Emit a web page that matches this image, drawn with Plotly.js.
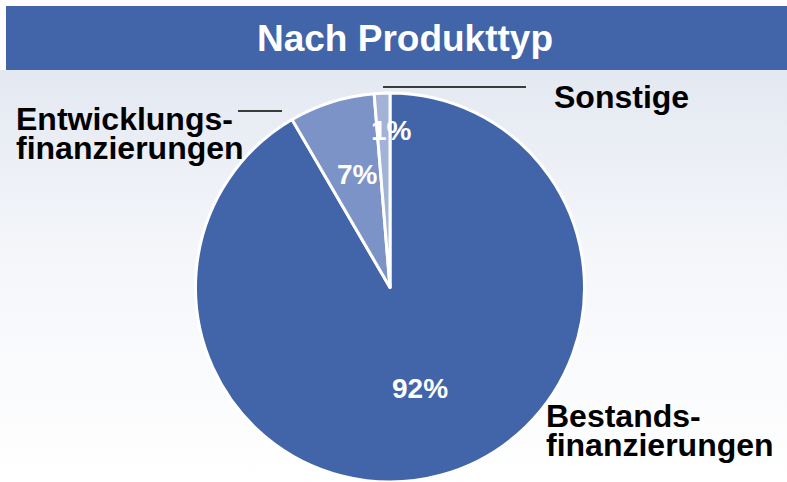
<!DOCTYPE html>
<html>
<head>
<meta charset="utf-8">
<script src="https://cdn.plot.ly/plotly-3.0.1.min.js"></script>
<style>
    html, body { margin: 0; padding: 0; }
    body {
        width: 787px;
        height: 482px;
        background: linear-gradient(to bottom, #ffffff 0px, #ffffff 70px, #e4e8f1 70px, #f4f6fa 250px, #ffffff 482px);
    }
    #chart { width: 787px; height: 482px; }
</style>
</head>
<body>
<div id="chart"></div>
<script>
// Werte
const categories = ['Bestands-finanzierungen', 'Entwicklungs-finanzierungen', 'Sonstige'];
const shares = [91.6, 7.1, 1.3];
const sliceColors = ['#4264a8', '#7b93c6', '#a3b3d8'];
const chartTitle = 'Nach Produkttyp';

const W = 787, H = 482;
const FONT = 'Arial, "Liberation Sans", sans-serif';

// Kreis: Mitte und Radius in Pixeln (Domain wird daraus abgeleitet)
const cx = 390, cy = 290, r = 194;
const rDomain = r + 3; // plotly zieht etwas Rand ab
const pieDomain = {
    x: [(cx - rDomain) / W, (cx + rDomain) / W],
    y: [1 - (cy + rDomain) / H, 1 - (cy - rDomain) / H]
};

// Abstand der Prozentwerte vom Mittelpunkt (Anteil am Radius) und kleine Winkelkorrektur
const pctRadius = [0.53, 0.62, 0.82];
const pctAngleShift = [-2, 2, 3];

// Kategorie-Beschriftungen: linke Kante, Grundlinie der ersten Zeile
const labelPos = [
    { x: 544, y: 427 },
    { x: 14, y: 130 },
    { x: 552, y: 108 }
];
const LABEL_SIZE = 32;
const LINE_GAP = 29;

const total = shares.reduce((a, b) => a + b, 0);
const annotations = [];
let cum = 0;
shares.forEach((v, i) => {
    const mid = (cum + v / 2) / total * 360 + pctAngleShift[i];
    cum += v;
    const th = mid * Math.PI / 180;
    const px = cx + Math.sin(th) * pctRadius[i] * r;
    const py = cy - Math.cos(th) * pctRadius[i] * r;
    annotations.push({
        x: px / W, y: 1 - py / H, xref: 'paper', yref: 'paper',
        text: Math.round(v / total * 100) + '%',
        showarrow: false, xanchor: 'center', yanchor: 'middle',
        font: { family: FONT, size: 28, color: '#ffffff', weight: 700 }
    });
});

categories.forEach((name, i) => {
    const parts = name.split('-');
    const lines = parts.length > 1 ? [parts[0] + '-', parts[1]] : [name];
    lines.forEach((line, j) => {
        const base = labelPos[i].y + j * LINE_GAP;
        annotations.push({
            x: labelPos[i].x / W, y: 1 - (base - 11) / H,
            xref: 'paper', yref: 'paper',
            text: line, showarrow: false,
            xanchor: 'left', yanchor: 'middle',
            font: { family: FONT, size: LABEL_SIZE, color: '#000000', weight: 700 }
        });
    });
});

const trace = {
    type: 'pie',
    labels: categories,
    values: shares,
    sort: false,
    direction: 'clockwise',
    rotation: 0,
    domain: pieDomain,
    textinfo: 'none',
    hoverinfo: 'label+percent',
    marker: {
        colors: sliceColors,
        line: { color: '#ffffff', width: 3 }
    }
};

const layout = {
    width: W,
    height: H,
    margin: { t: 0, r: 0, b: 0, l: 0 },
    paper_bgcolor: 'rgba(0,0,0,0)',
    plot_bgcolor: 'rgba(0,0,0,0)',
    showlegend: false,
    title: {
        text: chartTitle,
        x: 405 / W,
        xanchor: 'center',
        y: 1 - 38 / H,
        yanchor: 'middle',
        font: { family: FONT, size: 37, color: '#ffffff', weight: 700 }
    },
    shapes: [
        {
            type: 'rect', xref: 'paper', yref: 'paper', layer: 'below',
            x0: 6 / W, x1: 1, y0: 1 - 70 / H, y1: 1 - 6 / H,
            fillcolor: '#4264a8', line: { width: 0 }
        },
        {
            type: 'line', xref: 'paper', yref: 'paper',
            x0: 238 / W, x1: 282 / W, y0: 1 - 111 / H, y1: 1 - 111 / H,
            line: { color: '#000000', width: 1.5 }
        },
        {
            type: 'line', xref: 'paper', yref: 'paper',
            x0: 383 / W, x1: 526 / W, y0: 1 - 87 / H, y1: 1 - 87 / H,
            line: { color: '#000000', width: 1.5 }
        }
    ],
    annotations: annotations
};

Plotly.newPlot('chart', [trace], layout, { displayModeBar: false, responsive: false });
</script>
</body>
</html>
